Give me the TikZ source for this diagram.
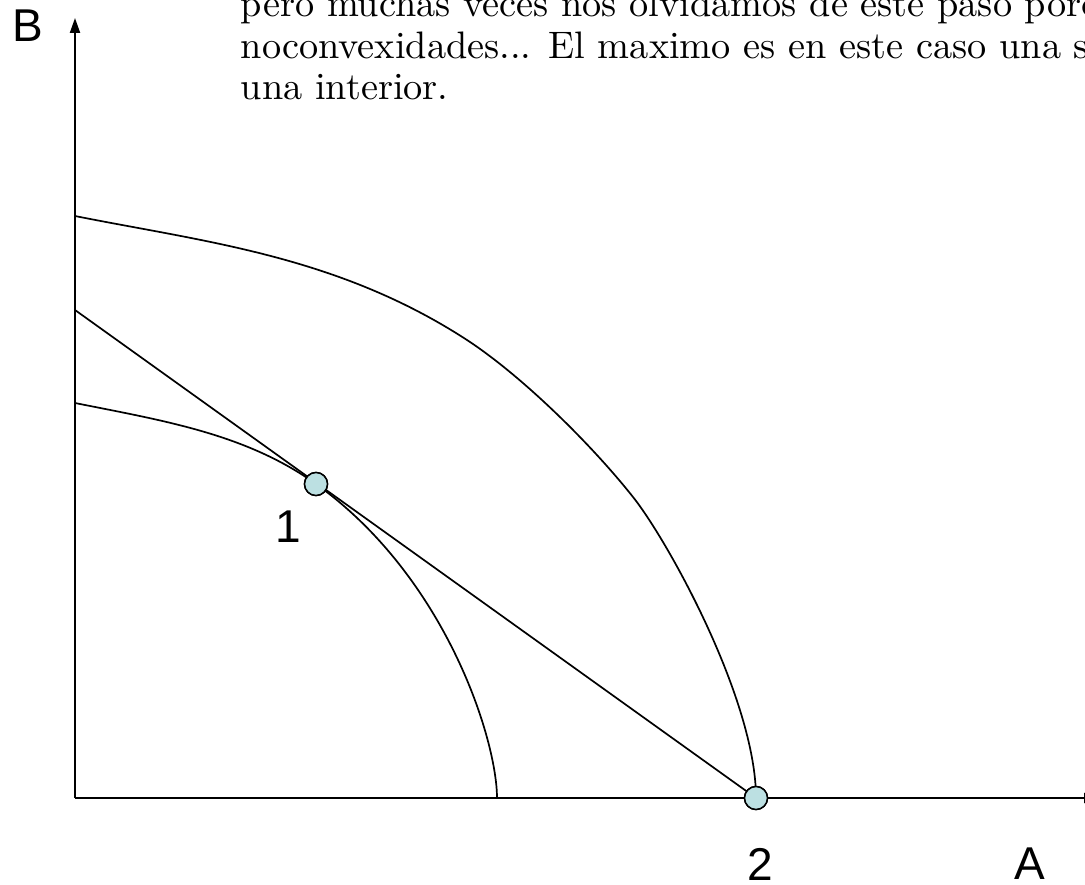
\documentclass[tikz,border=0pt]{standalone}
\usepackage{fontspec}
\newfontfamily\labelfont{Liberation Sans}
\usetikzlibrary{arrows.meta}
\definecolor{ptfill}{HTML}{BCE0E2}
\begin{document}
\begin{tikzpicture}[x=1pt,y=-1pt,
  axis/.style={line width=2pt,-{Triangle[length=15pt,width=10pt]}},
  curve/.style={line width=1.7pt},
  pt/.style={circle,draw=black,line width=1.5pt,fill=ptfill,minimum size=23pt,inner sep=0pt},
  lbl/.style={font=\labelfont\fontsize{46}{50}\selectfont,inner sep=0pt},
  txt/.style={font=\fontsize{10}{12}\selectfont,scale=3.83,anchor=base west,inner sep=0pt}]
\useasboundingbox (0,0) rectangle (1085,885);
\clip (0,0) rectangle (1085,885);
% text
\node[txt] (t1) at (240,17) {pero muchas veces nos olvidamos de este paso porq};
\node[txt] (t2) at (240,58.5) {noconvexidades... El maximo es en este caso una s};
\node[txt] (t3) at (240,100) {una interior.};
% axes
\coordinate (O) at (75,798);
\coordinate (Ytip) at (75,18);
\coordinate (Xtip) at (1099,798);
\draw[axis] (O) -- (Ytip);
\draw[axis] (O) -- (Xtip);
% outer curve
\coordinate (a0) at (75,216);
\coordinate (a1) at (467,340);
\coordinate (a2) at (633,497);
\coordinate (a3) at (756,798);
\draw[curve] (a0) .. controls (205,242) and (337,255.5) .. (a1)
  .. controls (522,376) and (591,444) .. (a2)
  .. controls (668,541) and (756,700) .. (a3);
% inner curve
\coordinate (b0) at (75,403);
\coordinate (b1) at (316,484);
\coordinate (b2) at (497,798);
\draw[curve] (b0) .. controls (165,421) and (246,434) .. (b1)
  .. controls (446,577) and (497,740) .. (b2);
% line
\coordinate (L0) at (75,310);
\node[pt] (p1) at (316,484) {};
\node[pt] (p2) at (756,798) {};
\draw[curve] (L0) -- (p2.center);
\node[pt] at (p1) {};
\node[pt] at (p2) {};
% labels
\node[lbl] (B) at (28,26) {B};
\node[lbl] (l1) at (288,527) {1};
\node[lbl] (l2) at (760,864) {2};
\node[lbl] (A) at (1030,864) {A};
\end{tikzpicture}
\end{document}
